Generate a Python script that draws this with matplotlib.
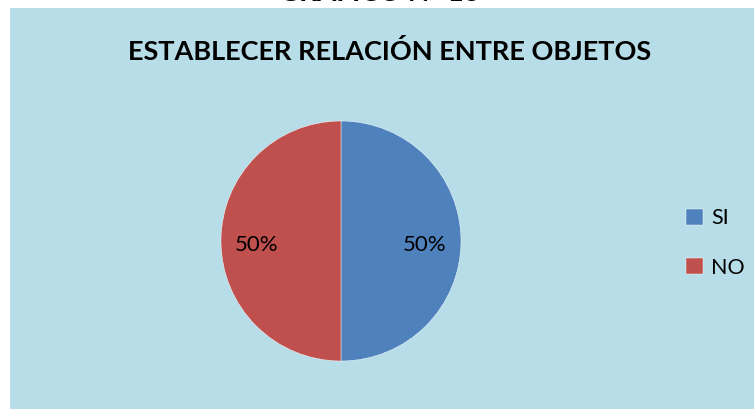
import matplotlib.pyplot as plt

# data
categories = ['SI', 'NO']
values = [50, 50]
colors = ['#4F81BD', '#C0504D']
title = 'ESTABLECER RELACIÓN ENTRE OBJETOS'

plt.rcParams['font.family'] = ['Lato', 'DejaVu Sans']

fig = plt.figure(figsize=(7.54, 4.09), dpi=100)
fig.patch.set_facecolor('white')

# chart area background (light blue box, slightly inset at left/top)
bg = fig.add_axes([10 / 754, 0, 1 - 10 / 754, 1 - 8 / 409], zorder=0)
bg.set_facecolor('#B7DEE8')
bg.set_xticks([])
bg.set_yticks([])
for s in bg.spines.values():
    s.set_visible(False)

# cut-off caption above the chart
fig.text(0.503, 1 - 6 / 409, 'GRÁFICO N° 13', ha='center', va='bottom',
         fontsize=20, fontweight='bold', color='black')

fig.text(0.517, 1 - 51 / 409, title, ha='center', va='center',
         fontsize=19.5, fontweight='bold', color='black')

# pie axes: center (341,241), radius 120 px
ax = fig.add_axes([221 / 754, (409 - 361) / 409, 240 / 754, 240 / 409], zorder=2)
wedges, texts, autotexts = ax.pie(values, colors=colors, startangle=90,
                                  counterclock=False, autopct='%1.0f%%',
                                  pctdistance=0.7, radius=1,
                                  wedgeprops=dict(edgecolor='white', linewidth=0.3),
                                  textprops=dict(fontsize=16, color='black'))
for t in autotexts:
    x, y = t.get_position()
    t.set_position((x, y - 0.035))
ax.set_xlim(-1, 1)
ax.set_ylim(-1, 1)
ax.set_aspect('equal')
ax.axis('off')

leg = fig.legend(wedges, categories, loc='center left',
                 bbox_to_anchor=(667 / 754, 1 - 243 / 409), frameon=False,
                 fontsize=15.5, handlelength=0.75, handleheight=0.75,
                 labelspacing=1.35, handletextpad=0.4)
leg.set_zorder(3)

fig.savefig('out.png', dpi=100)
